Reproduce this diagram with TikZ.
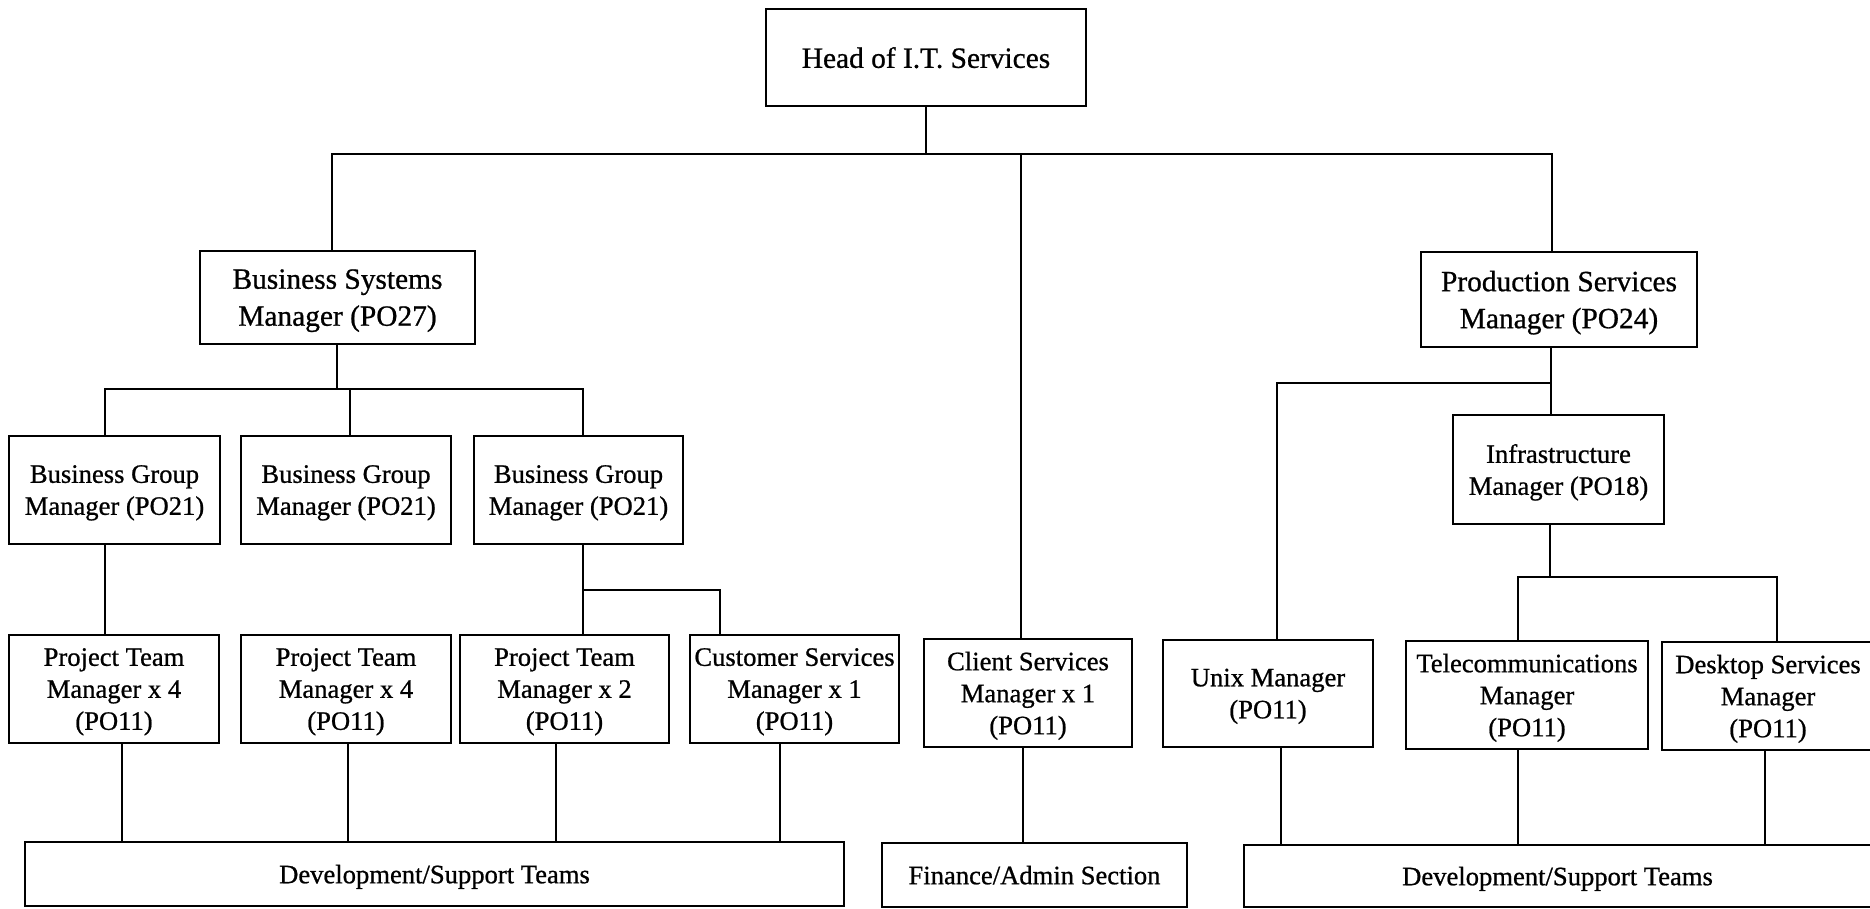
\documentclass[tikz,border=0pt]{standalone}
\usepackage{fontspec}
\setmainfont{Liberation Serif}[FakeBold=0.8]
\usetikzlibrary{calc}
\tikzset{
  box/.style={draw, line width=2.7pt, rectangle, inner sep=0pt, align=center,
    text depth=-3pt, font=\fontsize{26.6}{32}\selectfont},
  bigbox/.style={box, font=\fontsize{29.4}{37}\selectfont},
  link/.style={line width=2.8pt}
}
\begin{document}
\begin{tikzpicture}[x=1pt,y=-1pt]
\useasboundingbox (0,0) rectangle (1870,908);

% top level
\node[bigbox, minimum width=320, minimum height=97] (head) at (926,57.5) {Head of I.T. Services};

% second level
\node[bigbox, text depth=-8pt, minimum width=275, minimum height=93] (bsm) at (337.5,297.5) {Business Systems\\Manager (PO27)};
\node[bigbox, text depth=-8pt, minimum width=276, minimum height=95] (psm) at (1559,299.5) {Production Services\\Manager (PO24)};

% business group managers
\node[box, minimum width=211, minimum height=108] (bg1) at (114.5,490) {Business Group\\Manager (PO21)};
\node[box, minimum width=210, minimum height=108] (bg2) at (346,490) {Business Group\\Manager (PO21)};
\node[box, minimum width=209, minimum height=108] (bg3) at (578.5,490) {Business Group\\Manager (PO21)};

% infrastructure
\node[box, minimum width=211, minimum height=109] (infra) at (1558.5,469.5) {Infrastructure\\Manager (PO18)};

% team managers
\node[box, minimum width=210, minimum height=108] (ptm1) at (114,689) {Project Team\\Manager x 4\\(PO11)};
\node[box, minimum width=210, minimum height=108] (ptm2) at (346,689) {Project Team\\Manager x 4\\(PO11)};
\node[box, minimum width=209, minimum height=108] (ptm3) at (564.5,689) {Project Team\\Manager x 2\\(PO11)};
\node[box, minimum width=209, minimum height=108] (csm) at (794.5,689) {Customer Services\\Manager x 1\\(PO11)};
\node[box, minimum width=208, minimum height=108] (cls) at (1028,693) {Client Services\\Manager x 1\\(PO11)};
\node[box, minimum width=210, minimum height=107] (unix) at (1268,693.5) {Unix Manager\\(PO11)};
\node[box, minimum width=242, minimum height=108] (tel) at (1527,695) {Telecommunications\\Manager\\(PO11)};
\node[box, minimum width=212, minimum height=108] (desk) at (1768,696) {Desktop Services\\Manager\\(PO11)};

% bottom sections
\node[box, minimum width=819, minimum height=64] (dev1) at (434.5,874) {Development/Support Teams};
\node[box, minimum width=305, minimum height=64] (fin) at (1034.5,875) {Finance/Admin Section};
\node[box, minimum width=627, minimum height=62] (dev2) at (1557.5,876) {Development/Support Teams};

% junction points of the connectors
\coordinate (t1) at (332,154);
\coordinate (t2) at (1552,154);
\coordinate (t3) at (1021,154);
\coordinate (b0) at (337,389);
\coordinate (b1) at (105,389);
\coordinate (b2) at (350,389);
\coordinate (b3) at (583,389);
\coordinate (c1) at (583,590);
\coordinate (c2) at (720,590);
\coordinate (p0) at (1551,383);
\coordinate (p1) at (1277,383);
\coordinate (i0) at (1550,577);
\coordinate (i1) at (1518,577);
\coordinate (i2) at (1777,577);
% lanes down to the bottom sections
\coordinate (l1) at (122,0);
\coordinate (l2) at (348,0);
\coordinate (l3) at (556,0);
\coordinate (l4) at (780,0);
\coordinate (l5) at (1023,0);
\coordinate (l6) at (1281,0);
\coordinate (l7) at (1518,0);
\coordinate (l8) at (1765,0);

% head of services to second level
\draw[link] (head.south) -- (head.south |- t1);
\draw[link] (bsm.north -| t1) -- (t1) -- (t2) -- (psm.north -| t2);
\draw[link] (t3) -- (cls.north -| t3);

% business systems branch
\draw[link] (bsm.south -| b0) -- (b0);
\draw[link] (bg1.north -| b1) -- (b1) -- (b3) -- (bg3.north -| b3);
\draw[link] (b2) -- (bg2.north -| b2);
\draw[link] (bg1.south -| b1) -- (ptm1.north -| b1);
\draw[link] (bg3.south -| c1) -- (ptm3.north -| c1);
\draw[link] (c1) -- (c2) -- (csm.north -| c2);

% production services branch
\draw[link] (psm.south -| p0) -- (infra.north -| p0);
\draw[link] (p0) -- (p1) -- (unix.north -| p1);
\draw[link] (infra.south -| i0) -- (i0);
\draw[link] (tel.north -| i1) -- (i1) -- (i2) -- (desk.north -| i2);

% managers to the teams and sections
\draw[link] (ptm1.south -| l1) -- (dev1.north -| l1);
\draw[link] (ptm2.south -| l2) -- (dev1.north -| l2);
\draw[link] (ptm3.south -| l3) -- (dev1.north -| l3);
\draw[link] (csm.south -| l4) -- (dev1.north -| l4);
\draw[link] (cls.south -| l5) -- (fin.north -| l5);
\draw[link] (unix.south -| l6) -- (dev2.north -| l6);
\draw[link] (tel.south -| l7) -- (dev2.north -| l7);
\draw[link] (desk.south -| l8) -- (dev2.north -| l8);
\end{tikzpicture}
\end{document}
